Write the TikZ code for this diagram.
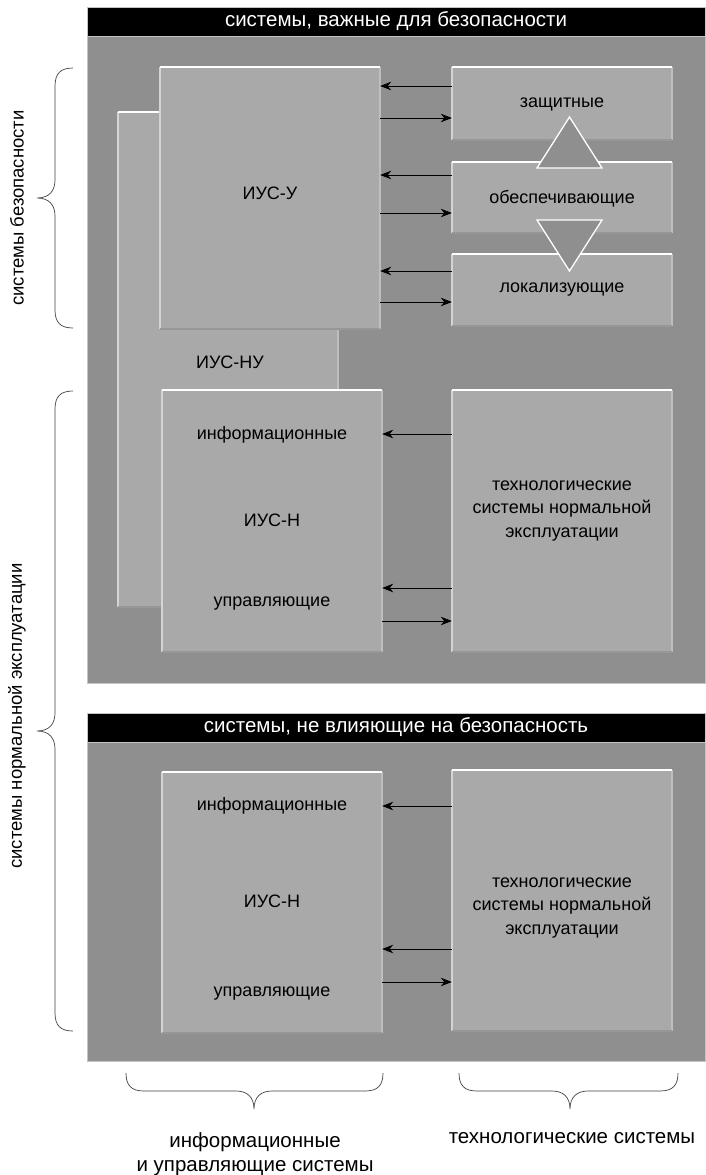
\documentclass[tikz,border=0pt]{standalone}
\usepackage{fontspec}
\setmainfont{Liberation Sans}
\usetikzlibrary{arrows.meta}
\definecolor{panelgray}{HTML}{8F8F8F}
\definecolor{boxgray}{HTML}{A9A9A9}
\definecolor{boxleft}{HTML}{D4D4D4}
\definecolor{boxright}{HTML}{BEBEBE}
\definecolor{boxbottom}{HTML}{979797}
\definecolor{edgegray}{HTML}{C4C4C4}
\tikzset{
  panel/.style={fill=panelgray, draw=edgegray, line width=0.8pt, inner sep=0},
  header/.style={fill=black, draw=edgegray, line width=0.8pt, text=white, inner sep=0,
    font=\fontsize{20.5}{24}\selectfont},
  box/.style={fill=boxgray, draw=none, inner sep=0, append after command={
    (\tikzlastnode.south west) edge[draw=boxleft, line width=1.5pt] (\tikzlastnode.north west)
    (\tikzlastnode.south east) edge[draw=boxright, line width=1.5pt] (\tikzlastnode.north east)
    (\tikzlastnode.south west) edge[draw=boxbottom, line width=1.5pt] (\tikzlastnode.south east)
    (\tikzlastnode.north west) edge[draw=white, line width=2pt] (\tikzlastnode.north east)}},
  lbl/.style={inner sep=0, font=\fontsize{18}{23.5}\selectfont, align=center},
  biglbl/.style={inner sep=0, font=\fontsize{20.5}{24}\selectfont, align=center},
  sidelbl/.style={inner sep=0, font=\fontsize{18.5}{22}\selectfont, rotate=90},
  arr/.style={draw=black, line width=0.8pt, -{Stealth[length=11pt, width=8.5pt, inset=3.5pt]}},
  tri/.style={fill=panelgray, draw=white, line width=1.3pt, line join=miter},
  bracepath/.style={draw=black!75, line width=0.7pt}
}
\begin{document}
\begin{tikzpicture}[x=1pt, y=-1pt]
\useasboundingbox (0,0) rectangle (705,1175);

% panels and headers
\node[panel, minimum width=618, minimum height=647] (p1) at (396,359.5) {};
\node[header, minimum width=618, minimum height=29] (h1) at (396,21.5) {системы, важные для безопасности};
\node[panel, minimum width=618, minimum height=319] (p2) at (396,901.5) {};
\node[header, minimum width=618, minimum height=29] (h2) at (396,727.5) {системы, не влияющие на безопасность};

% top panel boxes
\node[box, minimum width=220, minimum height=495] (iusnu) at (228,359.5) {};
\node[lbl] (tiusnu) at (230,362) {ИУС-НУ};
\node[box, minimum width=220, minimum height=262] (iusu) at (270,198) {};
\node[lbl] (tiusu) at (270,193) {ИУС-У};

\node[box, minimum width=220, minimum height=73] (zash) at (562,103.5) {};
\node[box, minimum width=220, minimum height=71] (obesp) at (562,197.5) {};
\node[box, minimum width=220, minimum height=72] (lokal) at (562,290) {};
\node[lbl] (tzash) at (562,104) {защитные};
\node[lbl] (tobesp) at (562,199) {обеспечивающие};
\node[lbl] (tlokal) at (562,290) {локализующие};

\draw[tri] (537,168) -- (569.5,117) -- (602,168) -- cycle;
\draw[tri] (537,220) -- (602,220) -- (569.5,271) -- cycle;

\node[box, minimum width=220, minimum height=262] (iusn1) at (272,521) {};
\node[lbl] (info1) at (272,435) {информационные};
\node[lbl] (tiusn1) at (272,520) {ИУС-Н};
\node[lbl] (upr1) at (272,604) {управляющие};
\node[box, minimum width=220, minimum height=262] (tech1) at (562,521) {};
\node[lbl] (ttech1) at (562,511) {технологические\\системы нормальной\\эксплуатации};

% top arrows
\draw[arr] (zash.west |- 0,86) -- (iusu.east |- 0,86);
\draw[arr] (iusu.east |- 0,118) -- (zash.west |- 0,118);
\draw[arr] (obesp.west |- 0,175) -- (iusu.east |- 0,175);
\draw[arr] (iusu.east |- 0,213) -- (obesp.west |- 0,213);
\draw[arr] (lokal.west |- 0,271) -- (iusu.east |- 0,271);
\draw[arr] (iusu.east |- 0,302) -- (lokal.west |- 0,302);
\draw[arr] (tech1.west |- 0,434) -- (iusn1.east |- 0,434);
\draw[arr] (tech1.west |- 0,588) -- (iusn1.east |- 0,588);
\draw[arr] (iusn1.east |- 0,621) -- (tech1.west |- 0,621);

% bottom panel boxes
\node[box, minimum width=220, minimum height=261] (iusn2) at (272,902.5) {};
\node[lbl] (info2) at (272,806) {информационные};
\node[lbl] (tiusn2) at (272,901) {ИУС-Н};
\node[lbl] (upr2) at (272,994) {управляющие};
\node[box, minimum width=220, minimum height=261] (tech2) at (562,900.5) {};
\node[lbl] (ttech2) at (562,908) {технологические\\системы нормальной\\эксплуатации};

\draw[arr] (tech2.west |- 0,806) -- (iusn2.east |- 0,806);
\draw[arr] (tech2.west |- 0,949) -- (iusn2.east |- 0,949);
\draw[arr] (iusn2.east |- 0,982) -- (tech2.west |- 0,982);

% side labels and braces
\node[sidelbl] (sbez) at (17,208) {системы безопасности};
\node[sidelbl] (snorm) at (17,716) {системы нормальной эксплуатации};

\draw[bracepath] (73,68) .. controls (61,68) and (55,73) .. (55,86) -- (55,180)
  .. controls (55,190) and (50,198) .. (37,198)
  .. controls (50,198) and (55,206) .. (55,216) -- (55,310)
  .. controls (55,323) and (61,328) .. (73,328);
\draw[bracepath] (73,391) .. controls (61,391) and (55,396) .. (55,409) -- (55,713)
  .. controls (55,723) and (50,731) .. (37,731)
  .. controls (50,731) and (55,739) .. (55,749) -- (55,1013)
  .. controls (55,1026) and (61,1031) .. (73,1031);

% bottom braces and labels
\draw[bracepath] (126,1073) .. controls (126,1085) and (131,1091) .. (144,1091) -- (236,1091)
  .. controls (246,1091) and (254,1096) .. (254,1109)
  .. controls (254,1096) and (262,1091) .. (272,1091) -- (365,1091)
  .. controls (378,1091) and (383,1085) .. (383,1073);
\draw[bracepath] (459,1073) .. controls (459,1085) and (464,1091) .. (477,1091) -- (552,1091)
  .. controls (562,1091) and (570,1096) .. (570,1109)
  .. controls (570,1096) and (578,1091) .. (588,1091) -- (660,1091)
  .. controls (673,1091) and (678,1085) .. (678,1073);

\node[biglbl] (binfo) at (255,1154) {информационные\\и управляющие системы};
\node[biglbl] (btech) at (572,1138) {технологические системы};
\end{tikzpicture}
\end{document}
